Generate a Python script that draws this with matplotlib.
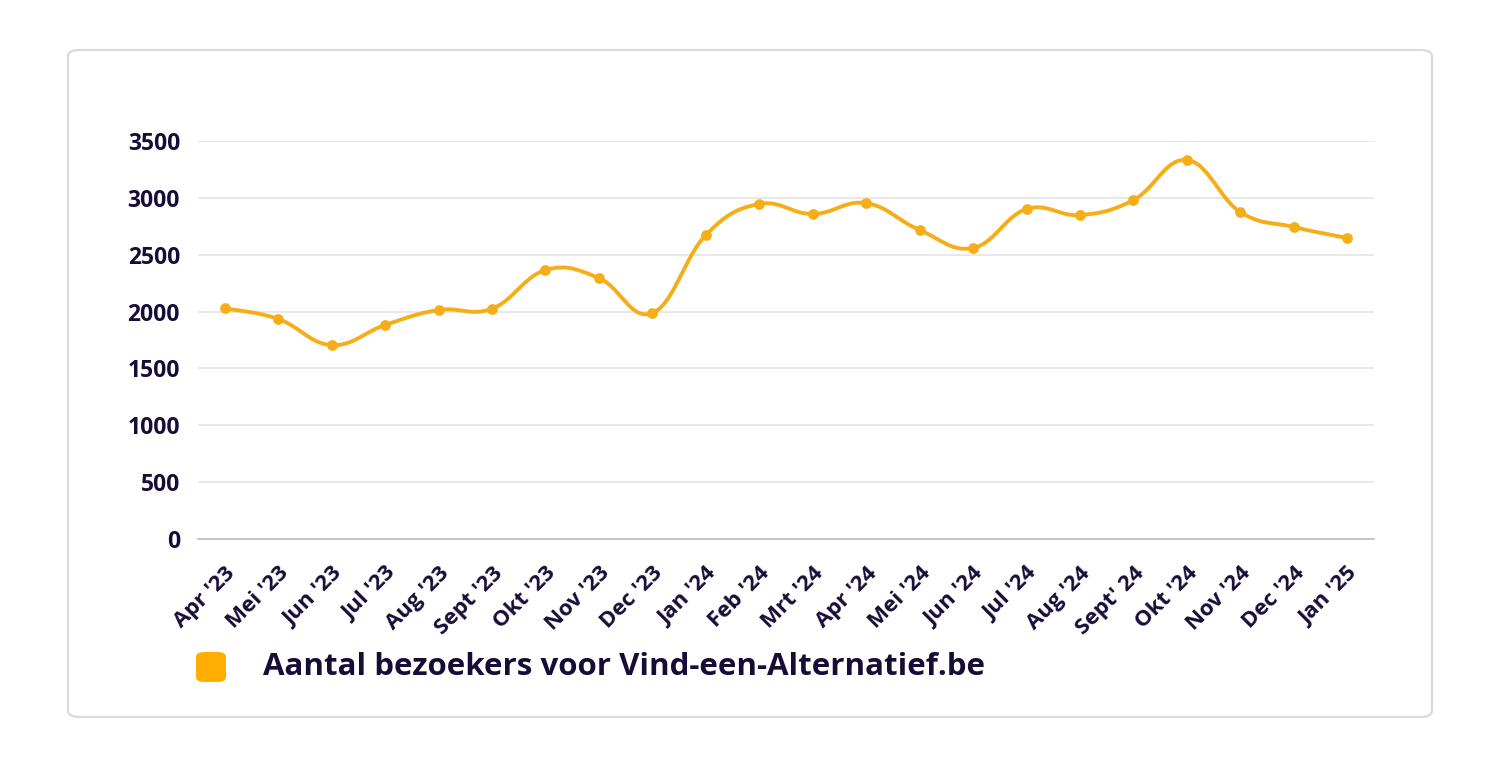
import numpy as np
import matplotlib
matplotlib.use("Agg")
import matplotlib.pyplot as plt
from matplotlib.patches import FancyBboxPatch

months = ["Apr '23", "Mei '23", "Jun '23", "Jul '23", "Aug '23", "Sept '23", "Okt '23",
          "Nov '23", "Dec '23", "Jan '24", "Feb '24", "Mrt '24", "Apr '24", "Mei '24",
          "Jun '24", "Jul '24", "Aug '24", "Sept' 24", "Okt '24", "Nov '24", "Dec '24", "Jan '25"]
visitors = [2030, 1935, 1705, 1882, 2014, 2025, 2365, 2295, 1987, 2673, 2946, 2858,
            2954, 2717, 2559, 2902, 2849, 2981, 3333, 2875, 2744, 2647]
series_name = "Aantal bezoekers voor Vind-een-Alternatief.be"
y_ticks = [0, 500, 1000, 1500, 2000, 2500, 3000, 3500]

LINE = "#F6AE18"
LEG = "#FFAE00"
TEXT = "#160C35"
FONT = ["Open Sans", "DejaVu Sans"]

plt.rcParams['font.family'] = FONT


def smooth(xs, ys, tension=0.4, n=30):
    xs = np.asarray(xs, float)
    ys = np.asarray(ys, float)
    outx, outy = [], []
    N = len(xs)
    for i in range(N - 1):
        p0 = np.array([xs[max(i - 1, 0)], ys[max(i - 1, 0)]])
        p1 = np.array([xs[i], ys[i]])
        p2 = np.array([xs[i + 1], ys[i + 1]])
        p3 = np.array([xs[min(i + 2, N - 1)], ys[min(i + 2, N - 1)]])
        c1 = p1 + (p2 - p0) * tension / 2
        c2 = p2 - (p3 - p1) * tension / 2
        t = np.linspace(0, 1, n)[:, None]
        pts = ((1 - t) ** 3) * p1 + 3 * ((1 - t) ** 2) * t * c1 + 3 * (1 - t) * t ** 2 * c2 + t ** 3 * p2
        outx.extend(pts[:, 0])
        outy.extend(pts[:, 1])
    return np.array(outx), np.array(outy)


fig = plt.figure(figsize=(15, 7.68), dpi=100)
fig.patch.set_facecolor("white")

card = FancyBboxPatch((68 / 1500, 1 - 717 / 768), (1432 - 68) / 1500, (717 - 50) / 768,
                      boxstyle="round,pad=0,rounding_size=0.008",
                      transform=fig.transFigure, facecolor="white",
                      edgecolor="#DADADA", linewidth=1.6, zorder=-5)
fig.patches.append(card)

ax = fig.add_axes([198 / 1500, 1 - 539 / 768, (1374 - 198) / 1500, (539 - 141) / 768])
ax.set_facecolor("none")
ax.set_zorder(2)

x = np.arange(len(months))
sx, sy = smooth(x, visitors)
ax.plot(sx, sy, color=LINE, lw=2.8, solid_capstyle="round", zorder=3)
ax.scatter(x, visitors, s=60, color=LINE, zorder=4, linewidths=0)

ax.set_xlim(-0.5, len(months) - 0.5)
ax.set_ylim(0, 3500)
ax.set_yticks(y_ticks)
ax.set_yticklabels([str(v) for v in y_ticks])
ax.set_xticks(x)
ax.set_xticklabels(months, rotation=45, ha="right", rotation_mode="anchor")

for sp in ["top", "right", "left"]:
    ax.spines[sp].set_visible(False)
ax.spines["bottom"].set_color("#BDBDBD")
ax.spines["bottom"].set_linewidth(1.2)
ax.grid(axis="y", color="#E2E2E2", linewidth=1.1)
ax.set_axisbelow(True)
ax.tick_params(axis="y", length=0, pad=13, labelsize=16.5, labelcolor=TEXT)
ax.tick_params(axis="x", length=0, pad=17, labelsize=16, labelcolor=TEXT)
for lab in ax.get_xticklabels() + ax.get_yticklabels():
    lab.set_fontweight("bold")

leg = FancyBboxPatch((196 / 1500, 1 - 682 / 768), 30 / 1500, 30 / 768,
                     boxstyle="round,pad=0,rounding_size=0.006",
                     transform=fig.transFigure, facecolor=LEG, edgecolor="none", zorder=3)
fig.patches.append(leg)
fig.text(263 / 1500, 1 - 667 / 768, series_name, fontsize=22.5, fontweight="bold",
         color=TEXT, va="center", ha="left")

fig.savefig("out.png", dpi=100, facecolor="white")
